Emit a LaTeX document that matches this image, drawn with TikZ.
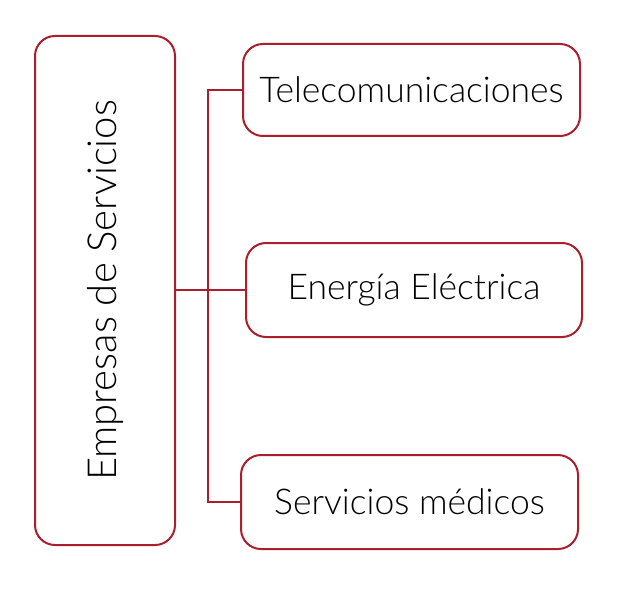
\documentclass[tikz,border=0pt]{standalone}
\usepackage{fontspec}
\setmainfont{Lato Light}[BoldFont=Lato]
\definecolor{boxred}{RGB}{170,30,45}
\begin{document}
\begin{tikzpicture}[x=1pt,y=-1pt,
  box/.style={draw=boxred,line width=2pt,rounded corners=20pt,fill=white,
    inner sep=0pt,font=\fontsize{35.5}{40}\selectfont,text=black},
  link/.style={draw=boxred,line width=2pt}]
\useasboundingbox (0,0) rectangle (620,588);
\node[box,minimum width=140pt,minimum height=509pt] (emp) at (105,290.5) {};
\node[rotate=90,font=\fontsize{40}{44}\selectfont] (empt) at (emp.center) {Empresas de Servicios};
\node[box,minimum width=337pt,minimum height=92pt] (tel) at (411.5,90) {Telecomunicaciones};
\node[box,minimum width=336pt,minimum height=94pt] (ene) at (414,290) {Energía Eléctrica};
\node[box,minimum width=337pt,minimum height=94pt] (ser) at (409.5,502) {Servicios médicos};
\coordinate (j) at (208,290);
\draw[link] (emp.east |- j) -- (j);
\draw[link] (tel.west) -| (j) |- (ser.west);
\draw[link] (j) -- (ene.west);
\end{tikzpicture}
\end{document}
